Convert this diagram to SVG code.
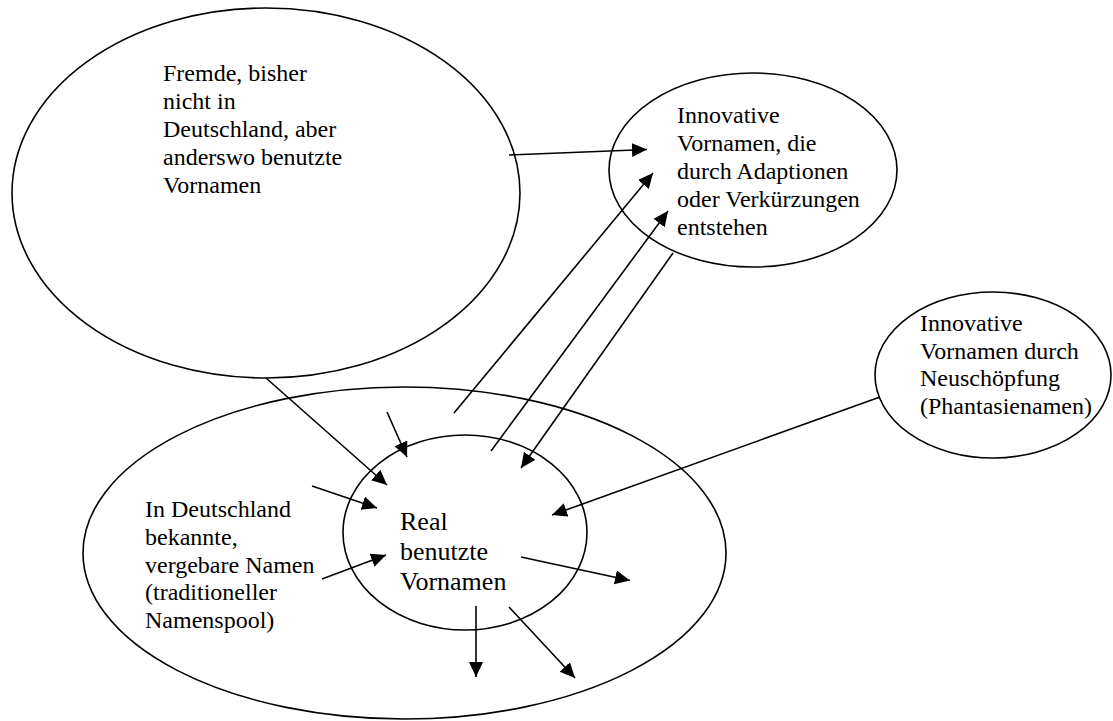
<svg xmlns="http://www.w3.org/2000/svg" width="1113" height="721" viewBox="0 0 1113 721">
<style>
.shape{fill:none;stroke:#000;stroke-width:1.6}
.lbl{font-family:"Liberation Serif","Times New Roman",serif;font-size:24px;fill:#000}
.big{font-size:26px}
.conn line{stroke:#000;stroke-width:1.6;marker-end:url(#ah)}
</style>
<defs>
<marker id="ah" markerUnits="userSpaceOnUse" markerWidth="16" markerHeight="15" refX="15" refY="7" orient="auto">
<path d="M0,0 L15,7 L0,14 z" fill="#000"/>
</marker>
</defs>
<rect width="1113" height="721" fill="#fff"/>
<g id="fremde">
<ellipse class="shape" cx="266" cy="193" rx="254" ry="185"/>
<text class="lbl" x="163" y="81">Fremde, bisher</text>
<text class="lbl" x="163" y="109">nicht in</text>
<text class="lbl" x="163" y="137">Deutschland, aber</text>
<text class="lbl" x="163" y="165">anderswo benutzte</text>
<text class="lbl" x="163" y="193">Vornamen</text>
</g>
<g id="adaption">
<ellipse class="shape" cx="753" cy="170" rx="144" ry="97"/>
<text class="lbl" x="677" y="123">Innovative</text>
<text class="lbl" x="677" y="151">Vornamen, die</text>
<text class="lbl" x="677" y="179">durch Adaptionen</text>
<text class="lbl" x="677" y="207">oder Verkürzungen</text>
<text class="lbl" x="677" y="235">entstehen</text>
</g>
<g id="neuschoepfung">
<ellipse class="shape" cx="993" cy="375" rx="118" ry="83"/>
<text class="lbl" x="920" y="331">Innovative</text>
<text class="lbl" x="920" y="358.5">Vornamen durch</text>
<text class="lbl" x="920" y="386">Neuschöpfung</text>
<text class="lbl" x="920" y="413.5">(Phantasienamen)</text>
</g>
<g id="namenspool">
<ellipse class="shape" cx="404.5" cy="553" rx="321.5" ry="166"/>
<text class="lbl" x="145" y="517">In Deutschland</text>
<text class="lbl" x="145" y="545">bekannte,</text>
<text class="lbl" x="145" y="572.5">vergebare Namen</text>
<text class="lbl" x="145" y="600">(traditioneller</text>
<text class="lbl" x="145" y="628">Namenspool)</text>
</g>
<g id="real">
<ellipse class="shape" cx="465" cy="532.5" rx="122" ry="97.5"/>
<text class="lbl big" x="400" y="530">Real</text>
<text class="lbl big" x="400" y="560">benutzte</text>
<text class="lbl big" x="400" y="590">Vornamen</text>
</g>
<g id="connectors" class="conn">
<line x1="509" y1="155" x2="647" y2="149.5"/>
<line x1="454" y1="413" x2="653" y2="173"/>
<line x1="491" y1="451" x2="668" y2="211"/>
<line x1="673" y1="253" x2="521" y2="468"/>
<line x1="266" y1="378" x2="387" y2="485"/>
<line x1="387" y1="412" x2="407" y2="457"/>
<line x1="312" y1="486" x2="377" y2="508"/>
<line x1="322" y1="579" x2="386" y2="555"/>
<line x1="880" y1="397" x2="552" y2="515"/>
<line x1="521" y1="557" x2="630" y2="580.5"/>
<line x1="476" y1="606" x2="476" y2="677"/>
<line x1="509" y1="607" x2="575" y2="678"/>
</g>
</svg>
